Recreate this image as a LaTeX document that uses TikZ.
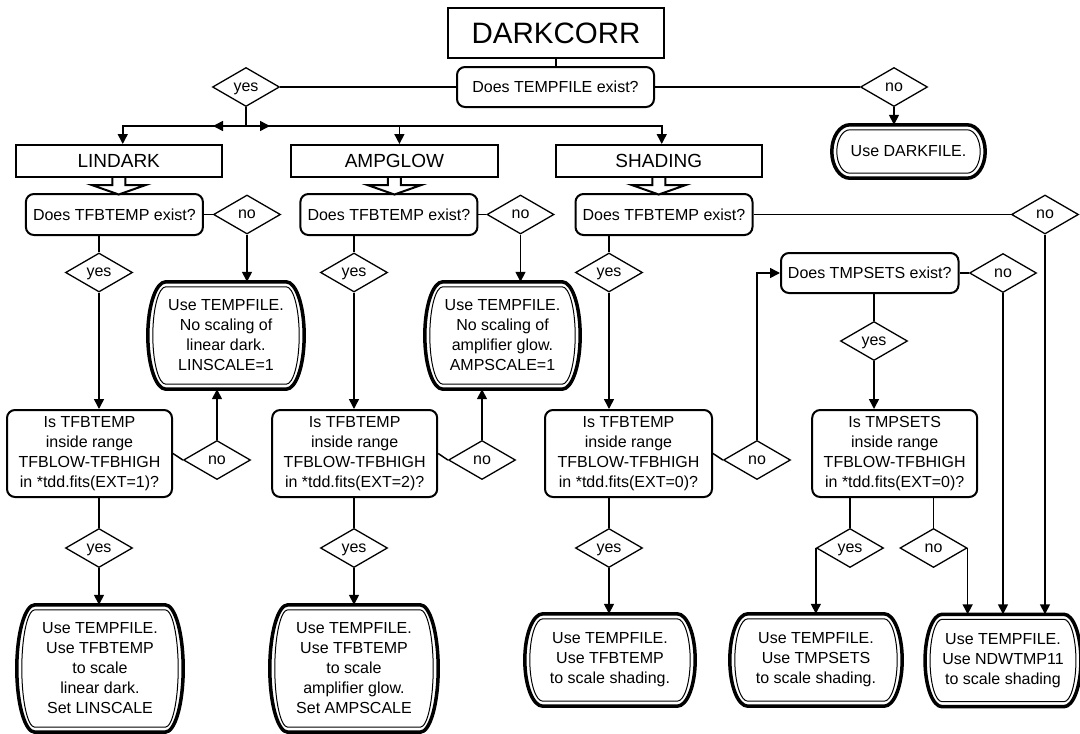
\documentclass[tikz,border=0pt]{standalone}
\usepackage{fontspec}
\setmainfont{Liberation Sans}
\usetikzlibrary{shapes.geometric,arrows.meta,calc}
\newcommand\termdraw[2]{%
  \draw[line width=3.5pt] let \p1=(#1.north west),\p2=(#1.south east),\n1={(\y1-\y2)/2} in
    (\x1,\y1) -- (\x2,\y1) arc[start angle=90,end angle=-90,x radius={#2*1pt},y radius={\n1*1pt}]
    -- (\x1,\y2) arc[start angle=270,end angle=90,x radius={#2*1pt},y radius={\n1*1pt}] -- cycle;
  \draw[line width=1pt] let \p1=(#1.north west),\p2=(#1.south east),\n1={(\y1-\y2)/2-5} in
    (\x1,\y1-5pt) -- (\x2,\y1-5pt) arc[start angle=90,end angle=-90,x radius={(#2-5)*1pt},y radius={\n1*1pt}]
    -- (\x1,\y2+5pt) arc[start angle=270,end angle=90,x radius={(#2-5)*1pt},y radius={\n1*1pt}] -- cycle;
}
\begin{document}
\begin{tikzpicture}[x=1pt,y=-1pt,
  conn/.style={line width=1.5pt},
  arr/.style={line width=1.5pt,-{Triangle[length=10pt,width=10pt]}},
  blk/.style={line width=2pt,fill=white,line join=miter},
  titlebox/.style={draw,line width=2pt,minimum height=32pt,minimum width=206.5pt,inner sep=0pt,font=\fontsize{19}{23}\selectfont},
  qbox/.style={draw,line width=2pt,rounded corners=8pt,inner sep=0pt,align=center,font=\fontsize{16}{20}\selectfont},
  dia/.style={diamond,draw,line width=1.3pt,minimum width=67pt,minimum height=39pt,inner sep=0pt,text height=8.3pt,text depth=0pt,font=\fontsize{16}{20}\selectfont},
  term/.style={inner sep=0pt,align=center,font=\fontsize{16}{20}\selectfont}]
\useasboundingbox (0,0) rectangle (1080,734);

% top
\node[draw,line width=2pt,minimum width=216pt,minimum height=50pt,inner sep=0pt,font=\fontsize{29.5}{34}\selectfont] (title) at (556,33) {DARKCORR};
\node[qbox,minimum width=197pt,minimum height=40pt] (q0) at (555.5,87) {Does TEMPFILE exist?};
\node[dia] (yes0) at (246,87) {yes};
\node[dia] (no0) at (894,87) {no};
\node[term,minimum width=117pt,minimum height=53pt] (darkfile) at (908.5,151.5) {Use DARKFILE.};

% title boxes
\node[titlebox] (lind) at (118.75,161) {LINDARK};
\node[titlebox] (ampg) at (394.4,161) {AMPGLOW};
\node[titlebox] (shad) at (658.75,161) {SHADING};

% question row
\node[qbox,minimum width=177pt,minimum height=41pt] (lq) at (114.4,214.5) {Does TFBTEMP exist?};
\node[qbox,minimum width=177pt,minimum height=41pt] (aq) at (388.9,214.5) {Does TFBTEMP exist?};
\node[qbox,minimum width=177pt,minimum height=41pt] (sq) at (664,214.5) {Does TFBTEMP exist?};
\node[dia] (lno1) at (247,214.5) {no};
\node[dia] (ano1) at (520.5,214.5) {no};
\node[dia] (sno1) at (1045,214.5) {no};

% yes row 1
\node[dia] (lyes1) at (99,272.5) {yes};
\node[dia] (ayes1) at (354,272.5) {yes};
\node[dia] (syes1) at (609,272.5) {yes};

% no boxes
\node[term,minimum width=120pt,minimum height=107pt] (lnobox) at (226,335.5) {Use TEMPFILE.\\No scaling of\\linear dark.\\LINSCALE=1};
\node[term,minimum width=119pt,minimum height=107pt] (anobox) at (502.5,335.5) {Use TEMPFILE.\\No scaling of\\amplifier glow.\\AMPSCALE=1};

% TMPSETS
\node[qbox,minimum width=177.5pt,minimum height=40pt] (tq) at (869.75,273) {Does TMPSETS exist?};
\node[dia] (tno1) at (1003,273) {no};
\node[dia] (tyes1) at (874,341) {yes};

% Is boxes
\node[qbox,minimum width=165pt,minimum height=87pt] (lis) at (89.5,453.5) {Is TFBTEMP\\inside range\\TFBLOW-TFBHIGH\\in *tdd.fits(EXT=1)?};
\node[qbox,minimum width=165pt,minimum height=87pt] (ais) at (354.7,453.5) {Is TFBTEMP\\inside range\\TFBLOW-TFBHIGH\\in *tdd.fits(EXT=2)?};
\node[qbox,minimum width=167pt,minimum height=87pt] (sis) at (628.5,453.5) {Is TFBTEMP\\inside range\\TFBLOW-TFBHIGH\\in *tdd.fits(EXT=0)?};
\node[qbox,minimum width=165pt,minimum height=87pt] (tis) at (894.7,453.5) {Is TMPSETS\\inside range\\TFBLOW-TFBHIGH\\in *tdd.fits(EXT=0)?};
\node[dia] (lno2) at (217,460) {no};
\node[dia] (ano2) at (482,460) {no};
\node[dia] (sno2) at (757,460) {no};

% lower diamonds
\node[dia] (lyes2) at (99,548) {yes};
\node[dia] (ayes2) at (354,548) {yes};
\node[dia] (syes2) at (609,548) {yes};
\node[dia] (tyes2) at (850,548) {yes};
\node[dia] (tno2) at (933.5,548) {no};

% final boxes
\node[term,minimum width=130pt,minimum height=127pt] (lfin) at (100,668.5) {Use TEMPFILE.\\Use TFBTEMP\\to scale\\linear dark.\\Set LINSCALE};
\node[term,minimum width=132pt,minimum height=127pt] (afin) at (354,668.5) {Use TEMPFILE.\\Use TFBTEMP\\to scale\\amplifier glow.\\Set AMPSCALE};
\node[term,minimum width=134pt,minimum height=92pt] (sfin) at (610,660) {Use TEMPFILE.\\Use TFBTEMP\\to scale shading.};
\node[term,minimum width=136pt,minimum height=92pt] (tfin) at (816,660) {Use TEMPFILE.\\Use TMPSETS\\to scale shading.};
\node[term,minimum width=116pt,minimum height=92pt] (nfin) at (1003,660.5) {Use TEMPFILE.\\Use NDWTMP11\\to scale shading};

% terminal outlines
\termdraw{darkfile}{18}
\termdraw{lnobox}{18}
\termdraw{anobox}{18}
\termdraw{lfin}{18}
\termdraw{afin}{18}
\termdraw{sfin}{18}
\termdraw{tfin}{18}
\termdraw{nfin}{17}

% block arrows
\draw[blk] (lind.south) ++(-6.5,0) -- ++(0,7) -- ++(-20.5,0) -- ++(27,9.5) -- ++(27,-9.5) -- ++(-20.5,0) -- ++(0,-7);
\draw[blk] (ampg.south) ++(-6.5,0) -- ++(0,7) -- ++(-20.5,0) -- ++(27,9.5) -- ++(27,-9.5) -- ++(-20.5,0) -- ++(0,-7);
\draw[blk] (shad.south) ++(-6.5,0) -- ++(0,7) -- ++(-20.5,0) -- ++(27,9.5) -- ++(27,-9.5) -- ++(-20.5,0) -- ++(0,-7);

% connectors top
\draw[conn] (title.south) -- (title.south |- q0.north);
\draw[conn] (q0.west) -- (yes0.east);
\draw[conn] (q0.east) -- (no0.west);
\draw[arr] (no0.south) -- (no0.south |- darkfile.north);
\coordinate (jn) at (246,126);
\draw[conn] (yes0.south) -- (jn);
\draw[arr] (jn) -| ([xshift=4pt]lind.north);
\draw[arr] (jn) -| ([xshift=5pt]ampg.north);
\draw[arr] (jn) -| ([xshift=3pt]shad.north);
\draw[arr] (jn) -- ++(-33,0);
\draw[arr] (jn) -- ++(24,0);

% question rows
\draw[conn] (lq.east) -- (lno1.west);
\draw[conn] (aq.east) -- (ano1.west);
\draw[conn] (sq.east) -- (sno1.west);
\draw[arr] (lno1.south) -- (lno1.south |- lnobox.north);
\draw[arr] (ano1.south) -- (ano1.south |- anobox.north);
\draw[arr] (sno1.south) -- (sno1.south |- nfin.north);

\draw[conn] (lyes1.north |- lq.south) -- (lyes1.north);
\draw[conn] (ayes1.north |- aq.south) -- (ayes1.north);
\draw[conn] (syes1.north |- sq.south) -- (syes1.north);
\draw[arr] (lyes1.south) -- (lyes1.south |- lis.north);
\draw[arr] (ayes1.south) -- (ayes1.south |- ais.north);
\draw[arr] (syes1.south) -- (syes1.south |- sis.north);

\draw[conn] (lis.east) -- (lno2.west);
\draw[conn] (ais.east) -- (ano2.west);
\draw[conn] (sis.east) -- (sno2.west);
\draw[arr] (lno2.north) -- (lno2.north |- lnobox.south);
\draw[arr] (ano2.north) -- (ano2.north |- anobox.south);
\draw[arr] (sno2.north) |- (tq.west);

\draw[conn] (tq.east) -- (tno1.west);
\draw[arr] (tno1.south) -- (tno1.south |- nfin.north);
\draw[conn] (tyes1.north |- tq.south) -- (tyes1.north);
\draw[arr] (tyes1.south) -- (tyes1.south |- tis.north);

% lower
\draw[conn] (lyes2.north |- lis.south) -- (lyes2.north);
\draw[conn] (ayes2.north |- ais.south) -- (ayes2.north);
\draw[conn] (syes2.north |- sis.south) -- (syes2.north);
\draw[arr] (lyes2.south) -- (lyes2.south |- lfin.north);
\draw[arr] (ayes2.south) -- (ayes2.south |- afin.north);
\draw[arr] (syes2.south) -- (syes2.south |- sfin.north);
\draw[conn] (tyes2.north |- tis.south) -- (tyes2.north);
\draw[conn] (tno2.north |- tis.south) -- (tno2.north);
\draw[arr] (tyes2.west) -- (tyes2.west |- tfin.north);
\draw[arr] (tno2.east) -- (tno2.east |- nfin.north);
\end{tikzpicture}
\end{document}
